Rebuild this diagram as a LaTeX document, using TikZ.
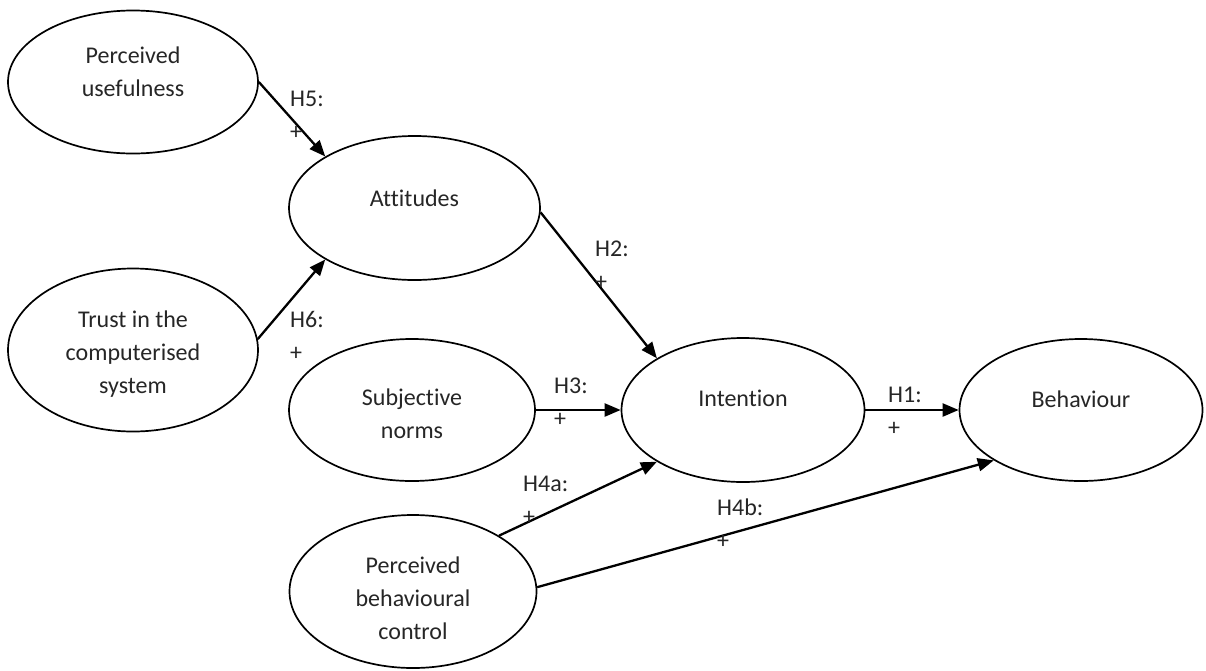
\documentclass[tikz,border=0pt]{standalone}
\usepackage{fontspec}
\setmainfont{Carlito}[Ligatures={NoCommon,NoContextual}]
\usetikzlibrary{shapes.geometric,arrows.meta}
\newcommand\etext[2]{\raisebox{#1}[\height][\depth]{\begin{tabular}{@{}c@{}}#2\end{tabular}}}
\newcommand\ltext[1]{\begin{tabular}{@{}l@{}}#1\end{tabular}}
\begin{document}
\begin{tikzpicture}[x=1pt,y=-1pt,
  every node/.style={font=\fontsize{24}{33}\selectfont, text=black!85},
  construct/.style={ellipse, draw=black, line width=1.7pt, inner sep=0pt, fill=white},
  hyp/.style={anchor=west, inner sep=0pt},
  link/.style={draw=black, line width=2.3pt, -{Triangle[length=16pt,width=13pt]}}
]
\fill[white] (0,0) rectangle (1206,670);
\useasboundingbox (0,0) rectangle (1206,670);

\node[construct, minimum width=250pt, minimum height=143pt] (pu) at (133,82) {\etext{9pt}{Perceived\\usefulness}};
\node[construct, minimum width=251pt, minimum height=144pt] (att) at (414.5,208) {\etext{8pt}{Attitudes}};
\node[construct, minimum width=250pt, minimum height=163pt] (trust) at (133,350) {\etext{-4pt}{Trust in the\\computerised\\system}};
\node[construct, minimum width=246pt, minimum height=142pt] (sn) at (412,410) {\etext{-5pt}{Subjective\\norms}};
\node[construct, minimum width=243pt, minimum height=144pt] (int) at (743,410) {\etext{10pt}{Intention}};
\node[construct, minimum width=243pt, minimum height=142pt] (beh) at (1081,410) {\etext{9pt}{Behaviour}};
\node[construct, minimum width=247pt, minimum height=153pt] (pbc) at (413,591.5) {\etext{-8pt}{Perceived\\behavioural\\control}};

\draw[link] (pu.east) -- (att.150);
\draw[link] (trust.5) -- (att.210);
\draw[link] (att.358) -- (int.149);
\draw[link] (sn.east) -- (int.west);
\draw[link] (int.east) -- (beh.west);
\draw[link] (pbc.33) -- (int.211);
\draw[link] (pbc.2) -- (beh.210);

\node[hyp] (l5) at (290,116.5) {\ltext{H5:\\+}};
\node[hyp] (l6) at (290,337.5) {\ltext{H6:\\+}};
\node[hyp] (l2) at (595,266.5) {\ltext{H2:\\+}};
\node[hyp] (l3) at (554,403.5) {\ltext{H3:\\+}};
\node[hyp] (l1) at (888,412.5) {\ltext{H1:\\+}};
\node[hyp] (l4a) at (523,501) {\ltext{H4a:\\+}};
\node[hyp] (l4b) at (717,525.5) {\ltext{H4b:\\+}};
\end{tikzpicture}
\end{document}
